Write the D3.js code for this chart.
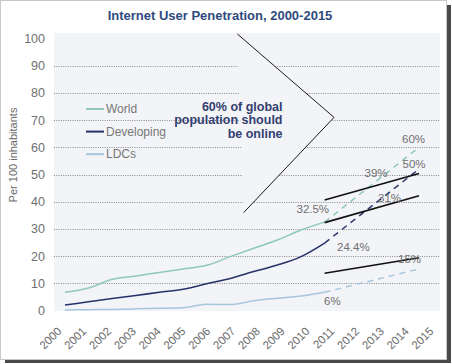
<!DOCTYPE html>
<html>
<head>
<meta charset="utf-8">
<script src="https://cdn.jsdelivr.net/npm/d3@7"></script>
<style>
  html, body { margin: 0; padding: 0; background: #ffffff; }
  svg { display: block; font-family: "Liberation Sans", Arial, Helvetica, sans-serif; }
</style>
</head>
<body>
<svg id="chart" width="452" height="364"></svg>
<script>
// ---- data ----
const years = [2000,2001,2002,2003,2004,2005,2006,2007,2008,2009,2010,2011,2012,2013,2014,2015];
const histYears = [2000,2001,2002,2003,2004,2005,2006,2007,2008,2009,2010,2011];
const worldValues = [6.7, 8.3, 11.5, 12.7, 14.0, 15.3, 16.6, 19.8, 22.9, 25.9, 29.6, 32.5];
const developingValues = [2.0, 3.2, 4.4, 5.5, 6.7, 7.8, 9.8, 11.8, 14.3, 16.7, 19.8, 24.8];
const ldcValues = [0.2, 0.3, 0.4, 0.6, 0.8, 1.0, 2.3, 2.2, 3.6, 4.5, 5.3, 6.7];
const projYears = [2011, 2015];
const worldProj = [32.5, 60];
const developingProj = [24.8, 52];
const ldcProj = [6.7, 15.3];
const trendYears = [2011, 2015];
const trendA = [40.6, 50.4];
const trendB = [32.3, 42.2];
const trendC = [13.7, 19.4];
const yTicks = [0,10,20,30,40,50,60,70,80,90,100];
const seriesNames = ["World", "Developing", "LDCs"];
const valueLabels = ["32.5%", "24.4%", "6%", "39%", "31%", "50%", "60%", "15%"];
const valueLabelYears = [2010.5, 2012.22, 2011.33, 2013.18, 2013.75, 2014.79, 2014.77, 2014.6];
const valueLabelValues = [35.8, 21.9, 2.0, 49.1, 39.9, 52.4, 61.6, 17.5];
const chevronYears = [2007.3, 2011.4, 2007.57];
const chevronValues = [101.7, 71, 36];
const noteLines = ["60% of global", "population should", "be online"];

// ---- styles ----
const colors = { World: "#8ecab2", Developing: "#27326a", LDCs: "#a6c6db" };
const svg = d3.select("#chart");

// frame with shadow
svg.append("rect").attr("x", 5).attr("y", 5).attr("width", 446).attr("height", 358).attr("fill", "#4a4a4a");
svg.append("rect").attr("x", 0.5).attr("y", 0.5).attr("width", 446).attr("height", 359)
  .attr("fill", "#ffffff").attr("stroke", "#c8c8c8");

const x = d3.scaleLinear().domain([2000, 2015]).range([65, 419]);
const y = d3.scaleLinear().domain([0, 100]).range([310.5, 38.5]);
const xLabel = d3.scalePoint().domain(years).range([59, 431]);

// plot background
svg.append("rect").attr("x", 54).attr("y", 33).attr("width", 386).attr("height", 278).attr("fill", "#f3f4f8");

// gridlines
svg.append("g").selectAll("line").data(yTicks.filter(t => t > 0 && t < 100)).join("line")
  .attr("x1", 54).attr("x2", 440)
  .attr("y1", d => Math.round(y(d)) + 0.5).attr("y2", d => Math.round(y(d)) + 0.5)
  .attr("stroke", "#8a8a8a").attr("stroke-width", 1).attr("stroke-dasharray", "1,1.3");

// title
svg.append("text").attr("x", 220).attr("y", 20).attr("text-anchor", "middle")
  .attr("font-size", 13).attr("font-weight", "bold").attr("fill", "#2f4a7e")
  .text("Internet User Penetration, 2000-2015");

// y axis
const yAxis = d3.axisLeft(y).tickValues(yTicks).tickSize(0).tickPadding(0);
const gy = svg.append("g").attr("transform", "translate(45,0)").call(yAxis);
gy.select(".domain").remove();
gy.selectAll("text").attr("font-size", 12.5).attr("fill", "#707070")
  .style("font-family", '"Liberation Sans", Arial, sans-serif');

// y axis title
svg.append("text").attr("transform", "translate(17,155) rotate(-90)").attr("text-anchor", "middle")
  .attr("font-size", 11).attr("fill", "#6a6a6a").text("Per 100 inhabitants");

// x axis labels
const xAxis = d3.axisBottom(xLabel).tickSize(0).tickPadding(0);
const gx = svg.append("g").attr("transform", "translate(0,329)").call(xAxis);
gx.select(".domain").remove();
gx.selectAll("text").attr("font-size", 11.5).attr("fill", "#6a6a6a")
  .style("font-family", '"Liberation Sans", Arial, sans-serif')
  .attr("text-anchor", "end").attr("dy", "0.35em").attr("y", 0)
  .attr("transform", "rotate(-45)");

// chevron annotation: background polygon hides gridlines, then two edges
const chev = chevronYears.map((yr, i) => [x(yr), y(chevronValues[i])]);
svg.append("polygon").attr("points", chev.map(p => p.join(",")).join(" ")).attr("fill", "#f3f4f8");
svg.append("path").attr("d", d3.line()(chev)).attr("fill", "none").attr("stroke", "#1a1a1a").attr("stroke-width", 1);

// annotation text
svg.append("text").attr("text-anchor", "end").attr("font-size", 12.5).attr("font-weight", "bold").attr("fill", "#33406f")
  .selectAll("tspan").data(noteLines).join("tspan")
  .attr("x", 282.5).attr("y", (d, i) => 110.5 + i * 13.5).text(d => d);

// lines
const line = d3.line().x(d => x(d[0])).y(d => y(d[1])).curve(d3.curveMonotoneX);
const hist = {
  World: histYears.map((yr, i) => [yr, worldValues[i]]),
  Developing: histYears.map((yr, i) => [yr, developingValues[i]]),
  LDCs: histYears.map((yr, i) => [yr, ldcValues[i]])
};
const proj = {
  World: projYears.map((yr, i) => [yr, worldProj[i]]),
  Developing: projYears.map((yr, i) => [yr, developingProj[i]]),
  LDCs: projYears.map((yr, i) => [yr, ldcProj[i]])
};
seriesNames.forEach(name => {
  svg.append("path").datum(hist[name]).attr("d", line).attr("fill", "none")
    .attr("stroke", colors[name]).attr("stroke-width", name === "Developing" ? 1.6 : 1.5);
  svg.append("path").datum(proj[name]).attr("d", d3.line().x(d => x(d[0])).y(d => y(d[1])))
    .attr("fill", "none").attr("stroke", colors[name]).attr("stroke-width", 1.5)
    .attr("stroke-dasharray", "6,5");
});

// trend lines
[trendA, trendB, trendC].forEach(vals => {
  svg.append("path").datum(trendYears.map((yr, i) => [yr, vals[i]]))
    .attr("d", d3.line().x(d => x(d[0])).y(d => y(d[1])))
    .attr("fill", "none").attr("stroke", "#111").attr("stroke-width", 1.6);
});

// value labels
svg.append("g").selectAll("text").data(valueLabels).join("text")
  .attr("x", (d, i) => x(valueLabelYears[i])).attr("y", (d, i) => y(valueLabelValues[i]))
  .attr("text-anchor", "middle").attr("font-size", 11.5).attr("fill", "#707070")
  .text(d => d);

// legend
const lg = svg.append("g").selectAll("g").data(seriesNames).join("g")
  .attr("transform", (d, i) => `translate(86,${109 + i * 22.6})`);
lg.append("line").attr("x1", 0).attr("x2", 18).attr("stroke", d => colors[d]).attr("stroke-width", 2);
lg.append("text").attr("x", 20).attr("dy", "0.35em").attr("font-size", 12).attr("fill", "#777").text(d => d);
</script>
</body>
</html>
